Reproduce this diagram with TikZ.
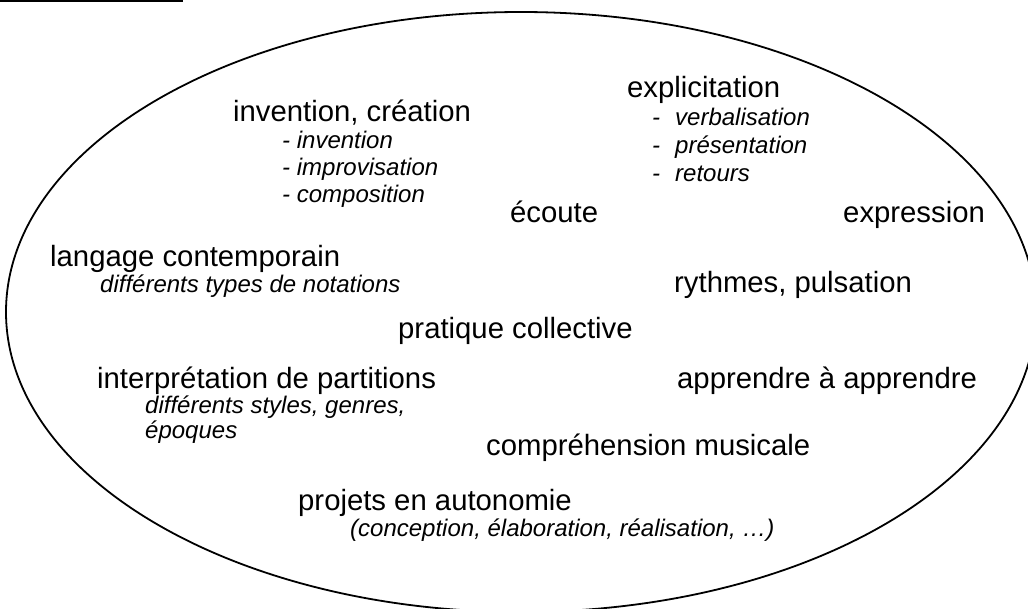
\documentclass[tikz,border=0pt]{standalone}
\usepackage{fontspec}
\setmainfont{Liberation Sans}
\usetikzlibrary{positioning}

\begin{document}
\begin{tikzpicture}[x=1pt, y=-1pt]
    \tikzset{
        t/.style        =   { anchor=base west
                            , inner sep=0pt
                            , font=\fontsize{29.3}{34}\selectfont
        }
        , s/.style      =   { anchor=base west
                            , inner sep=0pt
                            , font=\fontsize{24}{27}\selectfont\itshape
        }
        , rim/.style    =   { line width=1.8pt
        }
    }
    \useasboundingbox (0,0) rectangle (1028,608);
    \clip (0,0) rectangle (1028,608);

    \draw[line width=1.5pt] (0,1) -- (183,1);
    \draw[rim] (521,312) ellipse [x radius=515pt, y radius=300pt];

    \node(inv)[t]  at (233,121) {invention, création};
    \node(inva)[s] at (282,148) {- invention};
    \node(invb)[s] at (282,175) {- improvisation};
    \node(invc)[s] at (282,202) {- composition};

    \node(expl)[t]  at (627,97)  {explicitation};
    \node(expla)[s] at (652,125) {-\hspace{15pt}verbalisation};
    \node(explb)[s] at (652,153) {-\hspace{15pt}présentation};
    \node(explc)[s] at (652,181) {-\hspace{15pt}retours};

    \node(ecoute)[t] at (510,222) {écoute};
    \node(expr)[t]   at (843,222) {expression};
    \node(ryth)[t]   at (674,292) {rythmes, pulsation};

    \node(lang)[t]  at (50,266)  {langage contemporain};
    \node(langa)[s] at (100,292) {différents types de notations};

    \node(prat)[t] at (398,338) {pratique collective};

    \node(interp)[t]  at (97,388)  {interprétation de partitions};
    \node(interpa)[s] at (145,413) {différents styles, genres,};
    \node(interpb)[s] at (145,438) {époques};

    \node(appr)[t]  at (677,388) {apprendre à apprendre};
    \node(compr)[t] at (486,455) {compréhension musicale};

    \node(proj)[t]  at (298,510) {projets en autonomie};
    \node(proja)[s] at (350,536) {(conception, élaboration, réalisation, …)};
\end{tikzpicture}
\end{document}
